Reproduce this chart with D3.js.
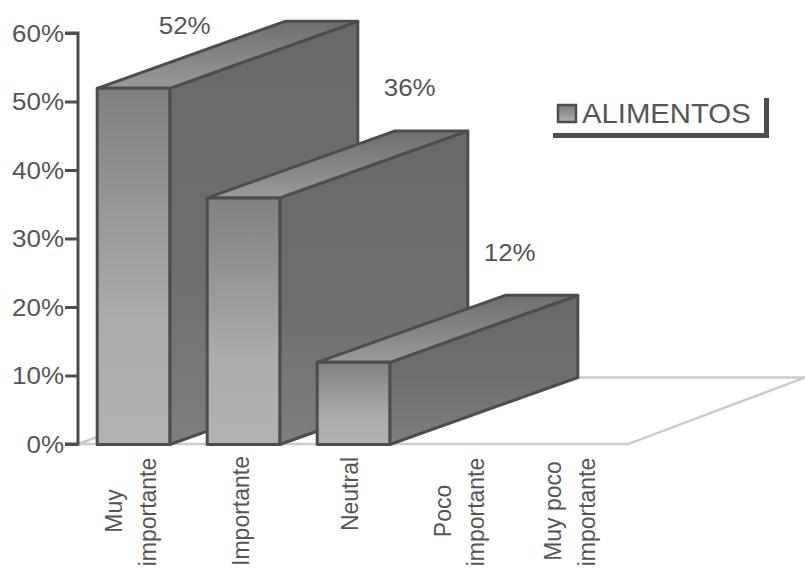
<!DOCTYPE html>
<html><head><meta charset="utf-8">
<script src="https://cdn.jsdelivr.net/npm/d3@7"></script>
<style>html,body{margin:0;padding:0;background:#fff}svg{display:block}text{font-family:"Liberation Sans",Arial,sans-serif;fill:#555}</style>
</head><body><svg id="c" width="805" height="568"></svg>
<script>
const categories=[["Muy","importante"],["Importante"],["Neutral"],["Poco","importante"],["Muy poco","importante"]];
const seriesName="ALIMENTOS";
const values=[52,36,12];
const valueLabels=["52%","36%","12%"];
const yTicks=[0,10,20,30,40,50,60];

const svg=d3.select("#c");
const x=d3.scaleBand().domain(d3.range(5)).range([78,628]).paddingInner(0.34).paddingOuter(0.17);
const y=d3.scaleLinear().domain([0,60]).range([444,33]);
const dx=188,dy=-67,stroke="#4d4d4d",sx=1.13;
const defs=svg.append("defs");
function grad(id,stops,y1=1,y2=0){const g=defs.append("linearGradient").attr("id",id).attr("x1",0).attr("x2",0).attr("y1",y1).attr("y2",y2);
 stops.forEach(s=>g.append("stop").attr("offset",s[0]).attr("stop-color",s[1]));}
grad("front",[[0,"#b2b2b2"],[0.35,"#acacac"],[1,"#808080"]]);
grad("side",[[0,"#7e7e7e"],[0.45,"#6e6e6e"],[1,"#696969"]]);
grad("top",[[0,"#9a9a9a"],[1,"#6e6e6e"]]);
grad("leg",[[0,"#b0b0b0"],[1,"#7a7a7a"]]);

// floor
svg.append("path").attr("d","M78,444L628,444L805,377.5M78,444L97,437M360,377.5L805,377.5")
 .attr("fill","none").attr("stroke","#cccccc").attr("stroke-width",2.4);

// bars
svg.append("g").attr("transform","translate(0.5,0.5)").selectAll("g").data(values).join("g").each(function(v,i){
 const g=d3.select(this),l=x(i),r=l+x.bandwidth(),t=y(v),b=y(0);
 const line=d3.line();
 const st=s=>s.attr("stroke",stroke).attr("stroke-width",3).attr("stroke-linejoin","round");
 st(g.append("path").attr("d",line([[r,b],[r+dx,b+dy],[r+dx,t+dy],[r,t]])+"Z").attr("fill","url(#side)"));
 st(g.append("path").attr("d",line([[l,t],[l+dx,t+dy],[r+dx,t+dy],[r,t]])+"Z").attr("fill","url(#top)"));
 st(g.append("rect").attr("x",l).attr("y",t).attr("width",x.bandwidth()).attr("height",b-t).attr("fill","url(#front)"));
});

// value labels (placed above the back edge of each bar; the tallest stays inside the page)
const labelDx=[88,203,193];
svg.append("g").selectAll("text").data(values).join("text")
 .attr("transform",(d,i)=>`translate(${x(i)+labelDx[i]},${Math.max(34,y(d)+dy-34)}) scale(${sx},1)`)
 .attr("text-anchor","middle").attr("font-size",23).text((d,i)=>valueLabels[i]);

// y axis
const ya=svg.append("g").attr("transform","translate(78,0)").call(d3.axisLeft(y).tickValues(yTicks).tickFormat(d=>d+"%").tickSize(13));
ya.selectAll("path,line").attr("stroke",stroke).attr("stroke-width",3);
ya.select("path").attr("d","M-13,33H0V444H-13").attr("fill","none");
ya.selectAll("text").attr("font-size",23).attr("font-family",'"Liberation Sans",Arial,sans-serif').attr("fill","#555")
 .attr("x",-14/sx).attr("transform",`scale(${sx},1)`).attr("dy","0.36em");

// x labels: baseline x relative to the band, vertical centre
const lineDx=[[25,59],[42],[41],[24,57],[24,58]];
const lineCy=[[511,512],[511],[494],[511,512],[511,512]];
svg.append("g").selectAll("g").data(categories).join("g").each(function(lines,i){
 lines.forEach((t,j)=>{
  d3.select(this).append("text")
   .attr("transform",`translate(${x(i)+lineDx[i][j]},${lineCy[i][j]}) scale(1.08,1) rotate(-90)`)
   .attr("text-anchor","middle").attr("font-size",23).text(t);
 });
});

// legend
const lg=svg.append("g");
lg.append("path").attr("d","M553,135.5H766.5V98").attr("fill","none").attr("stroke",stroke).attr("stroke-width",5);
lg.append("rect").attr("x",558).attr("y",105).attr("width",18).attr("height",17).attr("fill","url(#leg)").attr("stroke",stroke).attr("stroke-width",2.5);
lg.append("text").attr("transform","translate(582,123) scale(1.085,1)").attr("font-size",27).text(seriesName);
</script></body></html>
